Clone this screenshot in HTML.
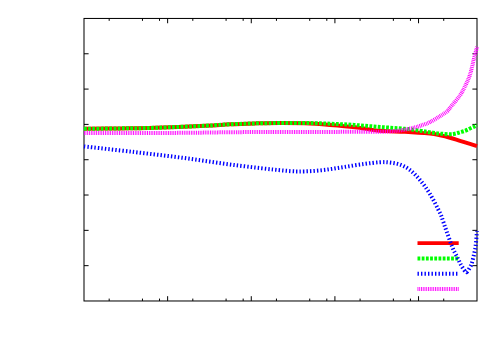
<!DOCTYPE html>
<html><head><meta charset="utf-8"><title>plot</title>
<style>html,body{margin:0;padding:0;background:#fff;}svg{display:block;}</style></head>
<body>
<svg width="500" height="350" viewBox="0 0 500 350">
<rect width="500" height="350" fill="#fff"/>
<g fill="none" stroke="#000" stroke-width="1">
<rect x="84.00" y="18.45" width="393.00" height="282.53" stroke-width="1.02"/>
<path d="M109.18,300.98v-2.40M109.18,18.45v2.40M142.46,300.98v-2.40M142.46,18.45v2.40M159.53,300.98v-2.40M159.53,18.45v2.40M167.64,300.98v-4.80M167.64,18.45v4.80M192.81,300.98v-2.40M192.81,18.45v2.40M226.09,300.98v-2.40M226.09,18.45v2.40M243.17,300.98v-2.40M243.17,18.45v2.40M251.27,300.98v-4.80M251.27,18.45v4.80M276.45,300.98v-2.40M276.45,18.45v2.40M309.73,300.98v-2.40M309.73,18.45v2.40M326.80,300.98v-2.40M326.80,18.45v2.40M334.91,300.98v-4.80M334.91,18.45v4.80M360.08,300.98v-2.40M360.08,18.45v2.40M393.36,300.98v-2.40M393.36,18.45v2.40M410.44,300.98v-2.40M410.44,18.45v2.40M418.54,300.98v-4.80M418.54,18.45v4.80M443.72,300.98v-2.40M443.72,18.45v2.40M84.00,265.66h4.6M477.00,265.66h-4.6M84.00,230.35h4.6M477.00,230.35h-4.6M84.00,195.03h4.6M477.00,195.03h-4.6M84.00,159.72h4.6M477.00,159.72h-4.6M84.00,124.40h4.6M477.00,124.40h-4.6M84.00,89.08h4.6M477.00,89.08h-4.6M84.00,53.77h4.6M477.00,53.77h-4.6"/>
</g>
<g fill="none" stroke-linejoin="round">
<path d="M417.5,243.15H458.7" stroke="#ff0000" stroke-width="3.8"/>
<path d="M84.00,128.80 C90.00,128.73 108.17,128.57 120.00,128.40 C131.83,128.23 140.83,128.23 155.00,127.80 C169.17,127.37 192.50,126.38 205.00,125.80 C217.50,125.22 221.67,124.70 230.00,124.30 C238.33,123.90 246.67,123.63 255.00,123.40 C263.33,123.17 271.67,122.92 280.00,122.90 C288.33,122.88 296.67,122.97 305.00,123.30 C313.33,123.63 321.67,124.25 330.00,124.90 C338.33,125.55 346.67,126.22 355.00,127.20 C363.33,128.18 371.67,130.05 380.00,130.80 C388.33,131.55 396.67,131.23 405.00,131.70 C413.33,132.17 424.17,133.00 430.00,133.60 C435.83,134.20 436.67,134.62 440.00,135.30 C443.33,135.98 446.67,136.78 450.00,137.70 C453.33,138.62 456.67,139.78 460.00,140.80 C463.33,141.82 467.17,142.92 470.00,143.80 C472.83,144.68 475.83,145.72 477.00,146.10" stroke="#ff0000" stroke-width="4"/>
<path d="M417.5,258.4H458.7" stroke="#00ff00" stroke-width="4" stroke-dasharray="2.8 1.4"/>
<path d="M84.00,128.80 C90.00,128.73 108.17,128.57 120.00,128.40 C131.83,128.23 140.83,128.23 155.00,127.80 C169.17,127.37 192.50,126.38 205.00,125.80 C217.50,125.22 221.67,124.70 230.00,124.30 C238.33,123.90 246.67,123.62 255.00,123.40 C263.33,123.18 271.67,123.07 280.00,123.00 C288.33,122.93 296.67,122.88 305.00,123.00 C313.33,123.12 321.67,123.37 330.00,123.70 C338.33,124.03 346.67,124.45 355.00,125.00 C363.33,125.55 371.67,126.37 380.00,127.00 C388.33,127.63 398.33,128.18 405.00,128.80 C411.67,129.42 415.83,130.12 420.00,130.70 C424.17,131.28 426.67,131.82 430.00,132.30 C433.33,132.78 436.67,133.28 440.00,133.60 C443.33,133.92 447.50,134.18 450.00,134.20 C452.50,134.22 453.33,134.02 455.00,133.70 C456.67,133.38 458.33,132.78 460.00,132.30 C461.67,131.82 463.33,131.43 465.00,130.80 C466.67,130.17 468.33,129.27 470.00,128.50 C471.67,127.73 473.83,126.77 475.00,126.20 C476.17,125.63 476.67,125.28 477.00,125.10" stroke="#00ff00" stroke-width="4" stroke-dasharray="2.8 1.4"/>
<path d="M417.5,273.8H458.7" stroke="#0000ff" stroke-width="4" stroke-dasharray="1.4 2.1"/>
<path d="M84.00,146.40 C92.33,147.33 117.33,150.07 134.00,152.00 C150.67,153.93 167.33,155.83 184.00,158.00 C200.67,160.17 217.33,162.90 234.00,165.00 C250.67,167.10 272.33,169.53 284.00,170.60 C295.67,171.67 297.33,171.50 304.00,171.40 C310.67,171.30 317.33,170.73 324.00,170.00 C330.67,169.27 337.33,168.00 344.00,167.00 C350.67,166.00 358.00,164.80 364.00,164.00 C370.00,163.20 375.67,162.43 380.00,162.20 C384.33,161.97 386.67,162.20 390.00,162.60 C393.33,163.00 396.67,163.37 400.00,164.60 C403.33,165.83 406.67,167.43 410.00,170.00 C413.33,172.57 416.67,176.00 420.00,180.00 C423.33,184.00 426.67,188.50 430.00,194.00 C433.33,199.50 437.83,208.50 440.00,213.00 C442.17,217.50 441.90,217.93 443.00,221.00 C444.10,224.07 445.08,227.13 446.60,231.40 C448.12,235.67 450.68,242.98 452.10,246.60 C453.52,250.22 454.10,251.03 455.10,253.10 C456.10,255.17 457.17,257.12 458.10,259.00 C459.03,260.88 459.67,262.53 460.70,264.40 C461.73,266.27 463.30,268.92 464.30,270.20 C465.30,271.48 466.30,271.78 466.70,272.10 C466.95,271.80 467.45,271.52 468.20,270.30 C468.95,269.08 470.40,266.73 471.20,264.80 C472.00,262.87 472.47,260.72 473.00,258.70 C473.53,256.68 473.97,254.77 474.40,252.70 C474.83,250.63 475.17,249.92 475.60,246.30 C476.03,242.68 476.77,233.55 477.00,231.00" stroke="#0000ff" stroke-width="4" stroke-dasharray="1.4 2.1"/>
<path d="M417.5,289.0H458.7" stroke="#ff00ff" stroke-width="4" stroke-dasharray="0.9 0.85"/>
<path d="M84.00,132.90 C95.83,132.92 134.83,133.05 155.00,133.00 C175.17,132.95 192.50,132.73 205.00,132.60 C217.50,132.47 217.50,132.30 230.00,132.20 C242.50,132.10 263.33,132.05 280.00,132.00 C296.67,131.95 313.33,131.95 330.00,131.90 C346.67,131.85 369.17,131.85 380.00,131.70 C390.83,131.55 390.83,131.35 395.00,131.00 C399.17,130.65 401.67,130.20 405.00,129.60 C408.33,129.00 412.50,128.03 415.00,127.40 C417.50,126.77 418.33,126.33 420.00,125.80 C421.67,125.27 423.33,124.82 425.00,124.20 C426.67,123.58 427.50,123.43 430.00,122.10 C432.50,120.77 437.17,117.97 440.00,116.20 C442.83,114.43 445.33,112.90 447.00,111.50 C448.67,110.10 447.83,110.50 450.00,107.80 C452.17,105.10 457.50,98.88 460.00,95.30 C462.50,91.72 463.33,89.73 465.00,86.30 C466.67,82.87 468.50,79.33 470.00,74.70 C471.50,70.07 473.00,62.45 474.00,58.50 C475.00,54.55 475.50,52.95 476.00,51.00 C476.50,49.05 476.83,47.50 477.00,46.80" stroke="#ff00ff" stroke-width="4" stroke-dasharray="0.9 0.85"/>
</g>
</svg>
</body></html>
